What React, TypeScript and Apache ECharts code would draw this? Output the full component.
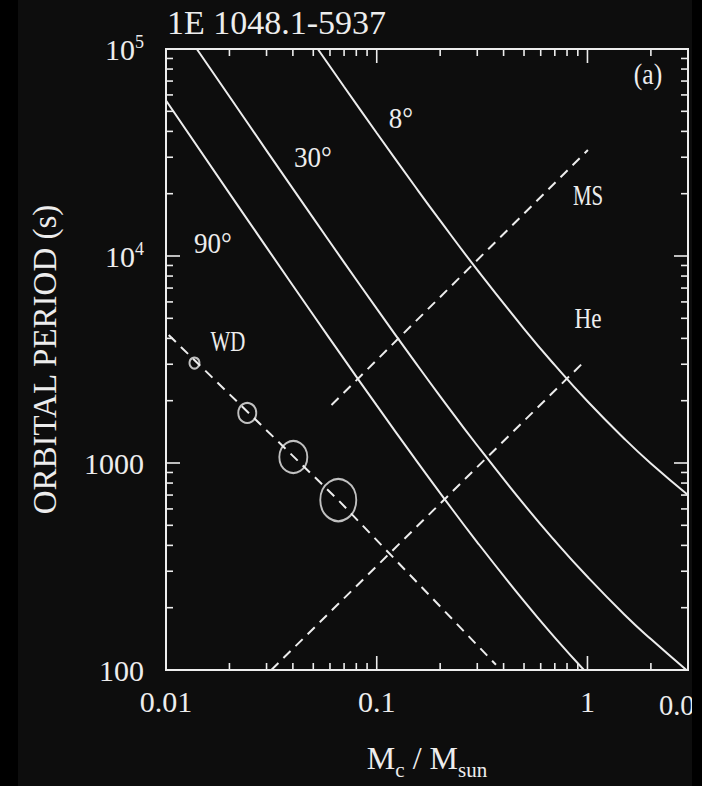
import React, { useEffect, useRef } from "react";
import * as echarts from "echarts";

// Companion mass (M_sun) and orbital period (s)
const mass90 = [0.01, 0.02, 0.03, 0.05, 0.07, 0.1, 0.15, 0.2, 0.3, 0.5, 0.7, 0.963];
const period90 = [56400, 20080, 11010, 5188, 3175, 1897, 1067, 716, 414, 215, 143.4, 100];

const mass30 = [0.014, 0.02, 0.03, 0.05, 0.07, 0.1, 0.15, 0.2, 0.3, 0.5, 0.7, 1, 1.5, 2, 2.95];
const period30 = [100000, 58950, 32310, 15230, 9318, 5568, 3132, 2100, 1215, 631, 421, 282, 185, 141, 100];

const mass8 = [0.0525, 0.07, 0.1, 0.15, 0.2, 0.3, 0.5, 0.7, 1, 1.5, 2, 3];
const period8 = [100000, 65720, 39270, 22090, 14810, 8570, 4450, 2969, 1987, 1307, 995, 701];

const massWD = [0.0103, 0.0657, 0.368];
const periodWD = [4150, 662, 106];

const massMS = [0.061, 1.005];
const periodMS = [1905, 32500];

const massHe = [0.0316, 0.984];
const periodHe = [100, 3150];

const massWDobs = [0.01365, 0.0243, 0.0402, 0.0657];
const periodWDobs = [3040, 1745, 1069, 662];

const xMajorTicks = [0.01, 0.1, 1];
const xMinorTicks = [0.02, 0.03, 0.04, 0.05, 0.06, 0.07, 0.08, 0.09, 0.2, 0.3, 0.4, 0.5, 0.6, 0.7, 0.8, 0.9, 2];
const yMajorTicks = [100, 1000, 10000, 100000];
const yMinorTicks = [200, 300, 400, 500, 600, 700, 800, 900, 2000, 3000, 4000, 5000, 6000, 7000, 8000, 9000, 20000, 30000, 40000, 50000, 60000, 70000, 80000, 90000];

const X_MIN = 0.01;
const X_MAX = 3;
const Y_MIN = 100;
const Y_MAX = 100000;

// styles (kept apart from data)
const circleSizes = [[10, 11], [18, 20], [28, 32], [36, 42]];
const FG = "#ededed";
const FONT = '"Liberation Serif", "DejaVu Serif", serif';

const zip = (xs: number[], ys: number[]) => xs.map((x, i) => [x, ys[i]]);

export default function App() {
  const ref = useRef<HTMLDivElement>(null);

  useEffect(() => {
    if (!ref.current) return;
    const chart = echarts.init(ref.current, null, { renderer: "svg" });

    const solid = (name: string, xs: number[], ys: number[]) => ({
      name,
      type: "line",
      data: zip(xs, ys),
      showSymbol: false,
      smooth: true,
      lineStyle: { color: FG, width: 2 },
      z: 3,
    });
    const dashed = (name: string, xs: number[], ys: number[]) => ({
      name,
      type: "line",
      data: zip(xs, ys),
      showSymbol: false,
      lineStyle: { color: FG, width: 2, type: [10, 7] },
      z: 3,
    });

    const xTickData = [
      ...xMajorTicks.map((v) => [v, Y_MIN, 1]),
      ...xMinorTicks.map((v) => [v, Y_MIN, 0]),
    ];
    const yTickData = [
      ...yMajorTicks.map((v) => [X_MIN, v, 1]),
      ...yMinorTicks.map((v) => [X_MIN, v, 0]),
    ];

    const tickStyle = { stroke: FG, lineWidth: 1.6 };

    const label = (text: string, x: number, y: number, size: number, sx = 1, align = "center") => ({
      type: "text",
      x,
      y,
      scaleX: sx,
      z: 20,
      style: {
        text,
        fill: FG,
        font: `${size}px ${FONT}`,
        textAlign: align,
        textVerticalAlign: "middle",
      },
    });

    chart.setOption({
      animation: false,
      backgroundColor: "#0d0d0d",
      textStyle: { fontFamily: FONT },
      grid: {
        left: 166,
        right: 14,
        top: 49,
        bottom: 116,
        show: true,
        borderColor: FG,
        borderWidth: 2,
        backgroundColor: "transparent",
      },
      xAxis: {
        type: "log",
        logBase: 10,
        min: X_MIN,
        max: X_MAX,
        axisLine: { show: false },
        axisTick: { show: false },
        splitLine: { show: false },
        axisLabel: {
          color: FG,
          fontSize: 30,
          fontFamily: FONT,
          margin: 16,
          formatter: (v: number) => {
            if (Math.abs(v - 0.01) < 1e-9) return "0.01";
            if (Math.abs(v - 0.1) < 1e-9) return "0.1";
            if (Math.abs(v - 1) < 1e-9) return "1";
            return "";
          },
        },
        name: "{m|M}{s|c}{m| / M}{s|sun}",
        nameLocation: "middle",
        nameGap: 66,
        nameTextStyle: {
          color: FG,
          rich: {
            m: { fontSize: 32, fontFamily: FONT, color: FG, lineHeight: 44 },
            s: { fontSize: 21, fontFamily: FONT, color: FG, verticalAlign: "bottom", lineHeight: 44 },
          },
        },
      },
      yAxis: {
        type: "log",
        logBase: 10,
        min: Y_MIN,
        max: Y_MAX,
        axisLine: { show: false },
        axisTick: { show: false },
        splitLine: { show: false },
        axisLabel: {
          color: FG,
          fontSize: 30,
          fontFamily: FONT,
          margin: 22,
          formatter: (v: number) => {
            if (v >= 99999) return "{b|10}{p|5}";
            if (v >= 9999) return "{b|10}{p|4}";
            if (v >= 999) return "{b|1000}";
            return "{b|100}";
          },
          rich: {
            b: { fontSize: 30, fontFamily: FONT, color: FG, lineHeight: 32 },
            p: { fontSize: 18, fontFamily: FONT, color: FG, verticalAlign: "top", lineHeight: 32 },
          },
        },
        name: "ORBITAL PERIOD (s)",
        nameLocation: "middle",
        nameRotate: 90,
        nameGap: 105,
        nameTextStyle: { color: FG, fontSize: 33, fontFamily: FONT },
      },
      series: [
        solid("90°", mass90, period90),
        solid("30°", mass30, period30),
        solid("8°", mass8, period8),
        dashed("WD", massWD, periodWD),
        dashed("MS", massMS, periodMS),
        dashed("He", massHe, periodHe),
        {
          name: "WD candidates",
          type: "scatter",
          data: zip(massWDobs, periodWDobs),
          symbol: "circle",
          symbolSize: (_v: any, p: any) => circleSizes[p.dataIndex],
          itemStyle: { color: "rgba(0,0,0,0)", borderColor: FG, borderWidth: 2 },
          z: 4,
        },
        {
          name: "xticks",
          type: "custom",
          data: xTickData,
          encode: { x: 0, y: 1 },
          clip: false,
          z: 5,
          renderItem: (params: any, api: any) => {
            const x = api.coord([api.value(0), Y_MIN])[0];
            const cs = params.coordSys;
            const len = api.value(2) === 1 ? 14 : 7;
            const yb = cs.y + cs.height;
            return {
              type: "group",
              children: [
                { type: "line", shape: { x1: x, y1: yb, x2: x, y2: yb - len }, style: tickStyle },
                { type: "line", shape: { x1: x, y1: cs.y, x2: x, y2: cs.y + len }, style: tickStyle },
              ],
            };
          },
        },
        {
          name: "yticks",
          type: "custom",
          data: yTickData,
          encode: { x: 0, y: 1 },
          clip: false,
          z: 5,
          renderItem: (params: any, api: any) => {
            const y = api.coord([X_MIN, api.value(1)])[1];
            const cs = params.coordSys;
            const len = api.value(2) === 1 ? 14 : 7;
            const xr = cs.x + cs.width;
            return {
              type: "group",
              children: [
                { type: "line", shape: { x1: cs.x, y1: y, x2: cs.x + len, y2: y }, style: tickStyle },
                { type: "line", shape: { x1: xr, y1: y, x2: xr - len, y2: y }, style: tickStyle },
              ],
            };
          },
        },
      ],
      graphic: [
        {
          type: "text",
          left: 167,
          top: 5,
          z: 20,
          style: { text: "1E 1048.1-5937", fill: FG, font: `34px ${FONT}` },
        },
        label("(a)", 648, 74, 30, 0.85),
        label("8°", 401, 118, 30, 0.9),
        label("30°", 313, 157, 30, 0.9),
        label("90°", 213, 243, 30, 0.9),
        label("WD", 228, 341, 29, 0.72),
        label("MS", 588, 195, 29, 0.72),
        label("He", 588, 319, 29, 0.8),
        label("0.0", 659, 705, 30, 0.95, "left"),
        { type: "rect", shape: { x: 0, y: 0, width: 18, height: 786 }, style: { fill: "#000" }, z: 100 },
        { type: "rect", shape: { x: 692, y: 0, width: 10, height: 786 }, style: { fill: "#000" }, z: 100 },
      ],
    });

    return () => chart.dispose();
  }, []);

  return (
    <div
      ref={ref}
      style={{ position: "absolute", left: 0, top: 0, width: 702, height: 786, background: "#000" }}
    />
  );
}
